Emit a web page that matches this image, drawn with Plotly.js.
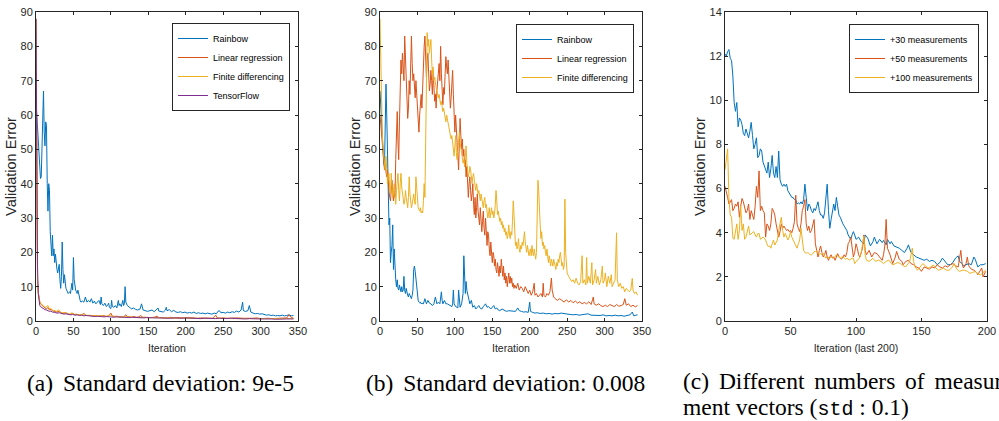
<!DOCTYPE html>
<html>
<head>
<meta charset="utf-8">
<script src="https://cdn.plot.ly/plotly-3.0.1.min.js"></script>
<style>
html,body{margin:0;padding:0;overflow:hidden;background:#fff;}
#chart{width:999px;height:421px;}
</style>
</head>
<body>
<div id="chart"></div>
<script>
// ---------- DATA (iteration, validation error) ----------
const aRainbow = [[0,64],[1,60],[2,55],[3,50],[4,46],[5,43],[6,41.5],[7,42],[8,52],[9,64],[10,67],[11,55],[12,51],[13,58],[14,57],[15,40],[16,32],[17,40],[18,38],[19,26],[20,21],[21,19],[22,25],[23,19],[24,21],[25,17],[26,19.5],[27,16],[28,15],[29,14],[30,16],[31,16.5],[32,12],[33,9.5],[34,13],[35,23],[36,15],[37,11],[38,13.5],[39,11],[40,9.5],[41,9],[42,8.5],[43,8],[44,8.3],[45,8.5],[46,8],[47,10],[48,11],[49,9],[50,18.5],[51,12],[52,10],[53,9],[54,8.5],[55,8],[56,9],[57,7.5],[58,6.5],[59,6],[60,5.5],[62,5.8],[64,5.5],[66,7],[68,5.5],[70,6],[72,5.5],[74,6.5],[76,5.2],[78,5.8],[80,5],[82,5.5],[84,6],[86,4.8],[87,7],[88,5],[90,4.5],[92,5.2],[94,4.2],[96,4.8],[97,5.2],[98,4],[100,3.6],[101,6],[102,4.2],[104,4],[106,4.5],[108,3.8],[110,6],[111,4.5],[112,5],[114,4.2],[116,6],[117,4.5],[118,5],[119,10],[120,5.5],[122,4.5],[124,4],[126,3.8],[128,3.5],[130,3.8],[133,3.4],[136,3.2],[139,3.5],[141,5],[143,3.2],[146,3],[149,2.8],[152,3],[155,3.2],[158,2.7],[161,3.3],[163,3.8],[164,2.9],[167,2.8],[170,2.6],[173,3.2],[174,4],[175,3],[178,3.3],[181,2.7],[184,3.1],[187,2.6],[190,2.5],[193,2.7],[196,2.4],[199,2.6],[202,2.3],[205,2.5],[208,2.3],[211,2.6],[214,2.2],[217,2.4],[220,2.2],[223,2.3],[226,2.1],[229,2.3],[232,2.2],[235,2],[238,2.3],[241,2.1],[243,2.8],[245,3],[247,2.4],[250,2.5],[253,2.3],[256,2.6],[259,2.4],[262,2.7],[265,2.5],[268,2.9],[271,2.6],[274,3.2],[276,5.5],[277,3],[280,2.8],[283,3],[285,4.5],[287,2.6],[290,2.3],[293,2.1],[296,2.2],[299,2],[302,2.1],[305,1.9],[308,1.7],[311,1.8],[314,1.6],[317,1.7],[320,1.5],[323,1.6],[326,1.5],[329,1.7],[332,1.5],[335,1.6],[338,1.8],[341,1.5],[344,1.6]];

const aLinReg = [[0,88],[1,35],[2,12],[3,8.5],[4,6.5],[5,5.5],[6,5],[8,4.5],[10,4.2],[12,3.8],[14,3.6],[16,3.9],[18,3.2],[20,3.4],[22,3],[25,2.9],[28,2.6],[31,2.8],[34,2.3],[37,2.2],[40,2.4],[43,2],[46,1.9],[49,2.2],[52,1.8],[55,1.9],[58,1.7],[61,1.8],[64,2.2],[67,1.6],[70,1.7],[73,1.6],[76,1.5],[79,1.6],[82,1.4],[85,1.5],[88,1.4],[91,1.6],[94,1.3],[97,1.5],[100,2.3],[102,1.4],[105,1.3],[108,1.4],[111,1.2],[114,1.3],[117,1.2],[120,1.8],[122,1.3],[125,1.2],[128,1.1],[131,1.3],[134,1.1],[137,1.2],[140,1.6],[142,1.1],[146,1],[150,1.1],[154,1],[158,1.1],[162,1.4],[164,1],[168,0.9],[172,1],[176,0.9],[180,1.1],[184,0.9],[188,1],[192,0.9],[196,1],[200,0.9],[204,1],[208,0.9],[212,1],[216,0.8],[220,0.9],[224,0.9],[228,0.8],[232,0.9],[236,0.8],[240,1.7],[242,0.9],[246,0.8],[250,0.9],[255,0.8],[260,0.9],[265,0.8],[270,0.9],[275,0.8],[280,0.9],[285,0.8],[290,0.8],[295,0.9],[300,0.7],[305,0.8],[310,0.8],[315,0.7],[320,0.8],[325,0.7],[330,0.8],[335,0.9],[338,1.8],[341,1],[344,0.8]];

const aFiniteDiff = [[0,88],[1,30],[2,11],[3,8],[4,6.5],[5,5.8],[6,5.2],[8,4.8],[10,4.4],[12,4],[14,4.2],[16,4.5],[18,3.5],[20,3.6],[22,3.2],[25,3.1],[28,2.8],[30,3.3],[33,2.5],[36,2.4],[39,2.5],[42,2.2],[45,2],[48,2.4],[51,1.9],[54,2],[57,1.8],[60,1.9],[63,1.7],[66,1.8],[69,1.6],[72,1.7],[75,1.5],[78,1.6],[81,1.5],[84,1.4],[87,1.6],[90,1.4],[93,1.3],[96,1.5],[99,1.8],[102,1.3],[105,1.4],[108,1.2],[111,1.3],[114,1.1],[117,1.2],[120,1.3],[124,1.1],[128,1.2],[132,1],[136,1.1],[140,1],[145,1.1],[150,0.9],[155,1],[160,0.9],[165,1],[170,0.9],[175,0.9],[180,0.8],[185,0.9],[190,0.8],[195,0.9],[200,0.8],[210,0.8],[220,0.7],[230,0.8],[240,0.7],[250,0.8],[260,0.7],[270,0.7],[280,0.8],[290,0.7],[300,0.7],[310,0.6],[320,0.7],[330,0.6],[340,0.7],[344,0.7]];

const aTensorFlow = [[0,88],[1,45],[2,16],[3,8],[4,5.5],[5,4.6],[6,4.2],[8,3.8],[10,3.6],[12,3.3],[14,3.2],[16,3],[18,2.8],[20,2.9],[22,2.6],[25,2.5],[28,2.3],[31,2.4],[34,2.1],[37,2],[40,2.1],[43,1.9],[46,1.8],[49,1.9],[52,1.7],[55,1.8],[58,1.6],[61,1.7],[64,1.5],[67,1.6],[70,1.5],[73,1.4],[76,1.5],[79,1.3],[82,1.4],[85,1.3],[88,1.4],[91,1.2],[94,1.3],[97,1.2],[100,1.3],[104,1.1],[108,1.2],[112,1.1],[116,1.2],[120,1.1],[124,1],[128,1.1],[132,1],[136,1.1],[140,1],[144,0.9],[148,1],[152,0.9],[156,1],[160,0.9],[165,0.9],[170,0.8],[175,0.9],[180,0.8],[185,0.9],[190,0.8],[195,0.8],[200,0.9],[205,0.8],[210,0.7],[215,0.8],[220,0.7],[225,0.8],[230,0.7],[235,0.8],[240,0.7],[245,0.8],[250,0.7],[255,0.7],[260,0.8],[265,0.7],[270,0.6],[275,0.7],[280,0.6],[285,0.7],[290,0.6],[295,0.7],[300,0.6],[305,0.6],[310,0.7],[315,0.6],[320,0.5],[325,0.6],[330,0.5],[335,0.6],[340,0.6],[344,0.6]];

const bRainbow = [[0,67],[1,62],[2,57],[3,53],[4,49],[5,46],[6,45],[7,55],[8,69],[9,60],[10,46],[11,40],[12,28],[13,30],[14,17],[15,20],[16,22],[17,28],[18,15],[19,21],[20,15],[21,12],[22,10],[23,12],[24,9.5],[25,9],[26,10.5],[27,9],[28,8.5],[29,10],[30,8.5],[31,9],[32,13],[33,9],[34,8],[35,9.5],[36,8],[37,7.5],[38,7],[39,8],[40,7.5],[41,7],[42,6.5],[43,7.5],[44,9],[45,15],[46,16],[47,14.5],[48,12],[49,9],[50,6.5],[51,6],[52,5.5],[53,5.3],[54,5.5],[55,5],[56,5.2],[58,5],[60,6.5],[62,5],[64,6],[66,5.2],[68,5],[70,4.5],[72,5],[74,7],[76,5],[78,5.5],[80,5],[82,8.5],[83,6],[84,5],[86,6],[88,5],[90,5],[92,4.8],[94,4.5],[96,4.2],[97,5],[98,9],[99,5],[101,4.2],[103,4],[104,3.8],[105,9],[106,5],[107,4],[109,5],[111,8],[112,19],[113,11],[114,8],[115,11.5],[116,9],[118,7],[120,5],[122,6],[124,4],[126,4.5],[128,3.5],[130,4],[132,4.5],[134,3.7],[136,3.5],[138,4.2],[141,5],[143,4],[145,4.2],[148,3.5],[150,4],[152,4.5],[154,3.5],[156,3.8],[158,3.2],[160,3],[163,3.5],[166,3.2],[169,2.8],[172,3],[175,2.9],[178,3],[181,2.8],[184,3.8],[186,3],[189,2.8],[192,2.6],[195,2.7],[198,2.5],[200,5.5],[201,2.8],[204,2.5],[207,2.3],[210,2.4],[214,2.2],[218,2.3],[222,2.1],[226,2.2],[230,2],[234,2.2],[238,2.1],[242,2.3],[246,2.1],[250,2],[254,1.9],[258,1.8],[262,1.9],[266,1.7],[270,1.8],[274,1.9],[278,2.1],[282,1.7],[286,1.6],[290,1.7],[294,1.6],[298,1.8],[302,1.5],[306,1.6],[310,1.5],[314,1.7],[318,1.5],[322,1.6],[326,1.4],[330,1.6],[334,1.8],[337,2.6],[339,1.5],[342,1.7],[344,1.8]];

const bLinReg = [[0,60],[1,57],[2,53],[3,50],[4,48],[5,46],[6,44],[7,45],[8,43],[9,42],[10,44],[11,40],[12,38],[13,36],[14,35],[15,38],[16,41],[17,37],[18,35],[19,38],[20,36],[21,47],[22,55],[23,61],[24,52],[25,47],[26,58],[27,70],[28,76],[29,72],[30,78],[31,74],[32,70],[33,83],[34,75],[35,68],[36,64],[37,59],[38,62],[39,70],[40,66],[41,76],[42,83],[43,75],[44,70],[45,72],[46,68],[47,65],[48,70],[49,65],[50,62],[51,58],[52,55],[53,60],[54,64],[55,66],[56,62],[57,70],[58,76],[59,80],[60,83],[61,74],[62,71],[63,76],[64,78],[65,72],[66,67],[67,69],[68,73],[69,70],[70,66],[71,73],[72,68],[73,64],[74,66],[75,62],[76,67],[77,70],[78,73],[79,75],[80,70],[81,80],[82,72],[83,64],[84,63],[85,68],[86,66],[87,72],[88,77],[89,74],[90,72],[91,76],[92,70],[93,66],[94,62],[95,65],[96,68],[97,73],[98,66],[99,58],[100,55],[101,60],[102,56],[103,52],[104,50],[105,44],[106,52],[107,59],[108,54],[109,50],[110,53],[111,48],[112,50],[113,45],[114,47],[115,42],[116,45],[117,38],[118,36],[119,40],[120,42],[121,38],[122,35],[123,37],[124,40],[125,34],[126,31],[127,36],[128,30],[129,33],[130,37],[131,32],[132,29],[133,28],[134,33],[135,30],[136,26],[137,29],[138,32],[139,27],[140,25],[141,30],[142,24],[143,22],[144,26],[145,25],[146,21],[147,19],[148,23],[149,18],[150,17],[151,20],[152,19],[153,16],[154,18],[155,15],[156,14],[157,17],[158,15],[159,13],[160,16],[161,14],[162,18],[163,13],[164,13],[165,16],[166,12],[167,14],[168,11],[169,13],[170,10],[171,12],[172,14],[173,11],[174,13],[175,11],[176,12.5],[177,10],[178,11],[179,9.5],[180,10.5],[182,9.5],[184,11],[186,9],[188,10],[190,9.5],[192,8.5],[194,10],[196,9],[198,8],[200,9],[202,7.5],[204,8.5],[206,11],[207,7.5],[209,8],[211,7],[213,7.5],[215,8],[217,7],[218,11],[219,7.5],[221,7],[223,8],[225,7.5],[227,8.5],[229,12.5],[230,9],[232,7],[234,6.5],[237,6],[240,6.5],[243,6],[246,5.5],[249,6.2],[252,5.5],[255,6],[258,5.3],[261,5.8],[264,5.2],[267,5.6],[270,5],[273,5.4],[276,5],[279,5.6],[282,4.8],[285,7],[286,5],[289,4.6],[292,5],[295,4.5],[298,4.2],[301,4.6],[304,4.2],[307,4.8],[310,4.4],[313,4.2],[316,4.8],[319,4.3],[322,4.5],[325,4.8],[327,6.5],[329,4.6],[332,5],[335,4.2],[338,4.6],[341,4.1],[344,4.5]];

const bFiniteDiff = [[0,88],[1,72],[2,62],[3,55],[4,50],[5,47],[6,45],[7,44],[8,48],[9,45],[10,40],[11,42],[12,43],[13,38],[14,37],[15,43],[16,40],[17,36],[18,38],[19,40],[20,36],[21,34],[22,38],[23,40],[24,43],[25,38],[26,35],[27,40],[28,43],[29,39],[30,37],[31,36],[32,34],[33,35],[34,38],[35,36],[36,34],[37,33],[38,36],[39,42],[40,37],[41,33],[42,33],[43,34],[44,36],[45,37],[46,35],[47,34],[48,42],[49,38],[50,33],[51,33],[52,32.5],[53,32],[54,33],[55,31.5],[56,32],[57,31.5],[58,35],[59,40],[60,36],[61,50],[62,68],[63,84],[64,80],[65,82],[66,78],[67,80],[68,82],[69,76],[70,72],[71,74],[72,70],[73,71],[74,69],[75,68],[76,67],[77,66],[78,65],[79,66],[80,64],[81,63],[82,64],[83,62],[84,61],[85,62],[86,60],[87,59],[88,58],[89,60],[90,59],[91,57],[92,56],[93,55],[94,55],[95,53],[96,54],[97,52],[98,50],[99,48],[100,51],[101,54],[102,49],[103,47],[104,50],[105,53],[106,55],[107,52],[108,50],[109,49],[110,48],[111,46],[112,47],[113,45],[114,48],[115,51],[116,46],[117,44],[118,42],[119,43],[120,45],[121,44],[122,41],[123,40],[124,42],[125,43],[126,41],[127,39],[128,38],[129,40],[130,39],[131,37],[132,38],[133,36],[134,35],[135,37],[136,36],[137,34],[138,33],[139,35],[140,36],[141,33],[142,34],[143,32],[144,30],[145,31],[146,33],[147,30],[148,31],[149,33],[150,31],[151,32],[152,30],[153,31],[154,34],[155,38],[156,35],[157,31],[158,32],[159,30],[160,29],[161,30],[162,28],[163,29],[164,27],[165,28],[166,26],[167,27],[168,25],[169,26],[170,24],[171,25],[172,28],[173,25],[174,24],[175,26],[176,25],[177,29],[178,35],[179,31],[180,26],[181,22],[182,23],[183,21],[184,22],[185,24],[186,21],[187,20],[188,22],[189,21],[190,23],[191,22],[192,24],[193,26],[194,23],[195,21],[196,20],[197,22],[198,20],[199,19],[200,20],[201,21],[202,19],[203,22],[204,20],[205,19],[206,21],[207,19],[208,18],[209,20],[210,28],[211,41],[212,38],[213,30],[214,28],[215,24],[216,26],[217,22],[218,23],[219,21],[220,22],[221,20],[222,19],[223,21],[224,18],[225,17],[226,19],[227,17],[228,16],[229,18],[230,17],[231,16],[232,18],[233,17],[234,16],[235,15],[236,17],[237,16],[238,18],[239,17],[240,19],[241,20],[242,18],[243,16],[244,17],[245,15],[246,16],[247,35.5],[248,20],[249,15],[250,14],[252,13],[254,12],[256,11.5],[258,12],[260,11],[262,12.5],[264,11],[266,10.5],[268,11.5],[270,19],[271,11],[273,12],[275,10.5],[276,18.5],[277,11],[279,13],[281,11],[283,17],[284,10.5],[286,12],[288,15],[289,11],[291,13],[293,10.5],[295,12],[297,16],[298,11],[300,12],[301,14],[303,10],[305,13],[307,11],[309,13.5],[310,10],[312,11],[314,12],[316,25.7],[317,12],[319,10],[321,11],[323,9.5],[325,10],[327,8.5],[329,9.5],[331,9],[333,8.5],[335,9],[337,12.4],[338,9],[340,8],[342,8.5],[344,7.5]];

const c30 = [[0,12.1],[1,12],[2,12.2],[3,12.3],[4,11.9],[5,11.8],[6,11.1],[7,9.9],[8,9.5],[9,9.9],[10,8.8],[11,9.2],[12,9.1],[13,8.9],[14,8.5],[15,8.4],[16,8.7],[17,8.5],[18,8.3],[19,8.6],[20,9],[21,8.4],[22,7.8],[23,8],[24,8.3],[25,7.4],[26,7.5],[27,7.8],[28,7.7],[29,7.2],[30,7],[31,6.8],[32,6.7],[33,7.2],[34,6.5],[35,6.9],[36,7.5],[37,6.7],[38,6.5],[39,7],[40,6.5],[41,7.7],[42,6.4],[43,6.2],[44,6.1],[45,6.2],[46,6.1],[47,6.2],[48,5.9],[49,5.8],[50,5.7],[51,5.6],[52,5.6],[53,5.5],[54,5.5],[55,5.3],[56,5.35],[57,5.3],[58,5.4],[59,5.3],[60,5.5],[61,6.2],[62,5.6],[63,5],[64,5.3],[65,5.2],[66,5],[67,4.9],[68,5.1],[69,5],[70,5.2],[71,5.4],[72,5],[73,4.8],[74,4.8],[75,4.65],[76,4.9],[77,5.5],[78,6.2],[79,5],[80,4.2],[81,4.6],[82,4.9],[83,5.3],[84,5],[85,5.6],[86,5.2],[87,4.8],[88,4.7],[89,4.5],[90,4.4],[91,4.3],[92,4.2],[93,4.1],[94,3.9],[95,3.8],[96,3.7],[97,3.9],[98,4.05],[99,3.9],[100,3.7],[102,3.8],[104,3.6],[106,3.5],[107,3.9],[109,3.75],[111,3.4],[113,3.6],[114,3.8],[116,3.5],[118,3.7],[120,3.55],[121,3.65],[123,3.45],[124,3.7],[126,3.5],[127,3.6],[129,3.4],[131,3.35],[133,3.3],[135,3.2],[137,3.1],[139,3.3],[140,3.45],[142,3.1],[144,3],[146,2.9],[148,2.85],[150,2.8],[152,2.75],[154,2.8],[156,2.7],[158,2.75],[160,2.7],[162,2.55],[164,2.65],[166,2.85],[168,2.7],[170,2.55],[172,2.55],[174,2.65],[176,2.85],[178,2.95],[179,2.7],[181,2.6],[182,2.5],[184,2.55],[186,2.6],[188,2.55],[190,2.9],[191,2.8],[193,2.45],[195,2.55],[197,2.55],[199,2.6]];

const c50 = [[0,6.1],[1,5.9],[2,5.6],[3,5.3],[4,5.4],[5,5.5],[6,5],[7,5.1],[8,5.3],[9,5.2],[10,5.4],[11,4.7],[12,5.2],[13,5.55],[14,5.4],[15,5.1],[16,4.9],[17,5],[18,5.3],[19,4.6],[20,5],[21,4.8],[22,4.6],[23,5.2],[24,6.1],[25,5.6],[26,6.8],[27,5],[28,5.2],[29,5],[30,4.9],[31,3.8],[32,4.4],[33,4.3],[34,4.1],[35,4.4],[36,5.1],[37,5],[38,4.8],[39,4.4],[40,4],[41,3.8],[42,4.05],[43,4.4],[44,4.2],[45,4.3],[46,4.2],[47,4.1],[48,4.15],[49,4.05],[50,4.1],[51,4],[52,4.2],[53,4.5],[54,5.7],[55,4.4],[56,4.2],[57,4.05],[58,4.4],[59,5],[60,5.2],[61,5.5],[62,4.4],[63,4.1],[64,4.3],[65,4],[66,4.1],[67,4.3],[68,4.6],[69,3.5],[70,3.1],[71,2.9],[72,3.2],[73,3.4],[74,3.1],[75,2.9],[76,3],[77,3.2],[78,2.9],[79,2.75],[80,2.9],[81,3],[82,2.85],[83,2.9],[84,2.75],[85,2.9],[86,3.05],[87,2.9],[88,2.85],[89,2.8],[90,2.9],[91,3],[92,2.9],[93,3.1],[94,3.5],[95,3.6],[96,3.8],[97,3.2],[98,2.9],[99,3.1],[100,3.5],[101,3.3],[102,3],[103,2.9],[104,3.1],[105,3.3],[106,3.9],[107,3.2],[108,3],[110,3.2],[112,2.9],[114,3.1],[116,3.05],[118,2.9],[120,2.75],[121,3],[122,3.4],[123,4.6],[124,3.3],[126,3],[128,2.6],[130,2.9],[131,3.15],[133,2.8],[135,2.7],[136,2.55],[138,2.7],[140,2.75],[142,2.6],[144,2.55],[146,2.45],[148,2.4],[150,2.25],[152,2.45],[154,2.4],[156,2.35],[158,2.45],[160,2.4],[162,2.55],[164,2.45],[166,2.4],[168,2.5],[170,2.45],[172,2.55],[174,2.6],[176,2.5],[178,2.45],[180,3.2],[181,2.6],[182,2.4],[184,2.6],[185,2.9],[186,2.5],[188,2.35],[190,2.3],[192,2.2],[193,2.1],[195,2.3],[196,2.4],[197,2],[199,2.25]];

const c100 = [[0,6.85],[1,7.3],[2,7.8],[3,5.6],[4,4.8],[5,4.7],[6,3.75],[7,3.7],[8,4.1],[9,4.4],[10,3.7],[11,4.1],[12,5.2],[13,4.1],[14,4.4],[15,3.7],[16,3.8],[17,4],[18,4.3],[19,3.9],[20,3.95],[21,4],[22,4.05],[23,3.9],[24,3.8],[25,3.95],[26,3.97],[27,3.7],[28,3.75],[29,3.8],[30,3.75],[31,3.67],[32,3.5],[33,3.37],[34,3.4],[35,3.3],[36,3.5],[37,3.67],[38,3.44],[39,3.55],[40,3.67],[41,4.1],[42,4.4],[43,4.7],[44,4.1],[45,3.8],[46,3.97],[47,3.8],[48,3.67],[49,3.8],[50,4.05],[51,3.8],[52,3.67],[53,3.5],[54,3.4],[55,3.3],[56,3.5],[57,3.67],[58,4.2],[59,3.6],[60,3.2],[61,3.1],[62,3.07],[63,3.1],[64,3.07],[65,3],[66,3],[67,3.05],[68,3.14],[69,3.15],[70,3.2],[71,3.05],[72,3],[73,3.05],[74,3],[75,3.07],[76,2.95],[77,2.85],[78,2.9],[79,2.85],[80,2.84],[81,2.9],[82,2.9],[83,2.85],[84,2.95],[85,3],[86,2.95],[87,2.9],[88,2.85],[89,2.9],[90,2.9],[91,2.85],[92,2.8],[93,2.84],[94,2.8],[95,2.77],[96,2.8],[97,2.85],[98,2.84],[99,2.6],[100,2.7],[102,2.8],[103,2.9],[104,3.1],[105,3.5],[106,3.85],[107,3],[108,2.75],[110,2.7],[112,2.8],[113,2.84],[115,2.7],[117,2.76],[119,2.7],[121,2.6],[123,2.7],[125,2.76],[127,2.6],[128,2.54],[130,2.6],[132,2.65],[134,2.6],[136,2.5],[138,2.46],[140,2.6],[141,2.7],[143,3.3],[144,2.7],[145,2.46],[147,2.3],[149,2.45],[151,2.6],[153,2.5],[155,2.39],[157,2.45],[159,2.54],[161,2.4],[163,2.3],[165,2.35],[167,2.39],[169,2.3],[171,2.3],[173,2.4],[175,2.6],[177,2.35],[179,2.24],[181,2.3],[183,2.3],[185,2.25],[187,2.16],[189,2.2],[191,2.24],[193,2.15],[195,2.08],[197,2.2],[199,2.3]];

const legendA = ['Rainbow','Linear regression','Finite differencing','TensorFlow'];
const legendC = ['+30 measurements','+50 measurements','+100 measurements'];
const ticksIter = [0,50,100,150,200,250,300,350];
const ticksErr = [0,10,20,30,40,50,60,70,80,90];
const ticksLast = [0,50,100,150,200];
const ticksErrC = [0,2,4,6,8,10,12,14];
const G = '\u2004\u200A';
const captionA = '(a)' + G + 'Standard deviation: 9e-5';
const captionB = '(b)' + G + 'Standard deviation: 0.008';
const captionC1 = ['(c)', 'Different', 'numbers', 'of', 'measure-'].join(G);
const captionC2 = 'ment vectors (<span style="font-family:Liberation Mono, DejaVu Sans Mono, monospace;font-size:20px">std</span> : 0.1)';

// ---------- STYLE ----------
const COLORS = ['#0072BD','#D95319','#EDB120','#7E2F8E'];
const SANS = 'Liberation Sans, Arial, sans-serif';
const SERIF = 'Liberation Serif, Times New Roman, serif';
const AXC = '#262626';

function tr(pairs, name, color, xa, ya, lg) {
  return {
    x: pairs.map(p => p[0]), y: pairs.map(p => p[1]),
    name: name, type: 'scatter', mode: 'lines',
    line: {color: color, width: 1},
    xaxis: xa, yaxis: ya, legend: lg, hoverinfo: 'skip'
  };
}

const data = [
  tr(aRainbow, legendA[0], COLORS[0], 'x', 'y', 'legend'),
  tr(aLinReg, legendA[1], COLORS[1], 'x', 'y', 'legend'),
  tr(aFiniteDiff, legendA[2], COLORS[2], 'x', 'y', 'legend'),
  tr(aTensorFlow, legendA[3], COLORS[3], 'x', 'y', 'legend'),
  tr(bRainbow, legendA[0], COLORS[0], 'x2', 'y2', 'legend2'),
  tr(bLinReg, legendA[1], COLORS[1], 'x2', 'y2', 'legend2'),
  tr(bFiniteDiff, legendA[2], COLORS[2], 'x2', 'y2', 'legend2'),
  tr(c30, legendC[0], COLORS[0], 'x3', 'y3', 'legend3'),
  tr(c50, legendC[1], COLORS[1], 'x3', 'y3', 'legend3'),
  tr(c100, legendC[2], COLORS[2], 'x3', 'y3', 'legend3')
];

function ax(extra) {
  return Object.assign({
    showline: true, linecolor: AXC, linewidth: 1, mirror: 'ticks',
    ticks: 'inside', ticklen: 3, tickwidth: 1, tickcolor: AXC,
    showgrid: false, zeroline: false, fixedrange: true,
    tickfont: {family: SANS, size: 11, color: AXC}
  }, extra);
}
const YD = [100/421, 409/421];
const xTitle = t => ({text: t, font: {family: SANS, size: 10.5, color: AXC}, standoff: 8});
const yTitle = {text: 'Validation Error', font: {family: SANS, size: 14.5, color: AXC}, standoff: 0};

function leg(xr, yt) {
  return {x: xr/999, y: (421-yt)/421, xanchor: 'right', yanchor: 'top',
    bgcolor: '#fff', bordercolor: AXC, borderwidth: 1,
    font: {family: SANS, size: 9, color: '#000'}, tracegroupgap: 0};
}

const layout = {
  width: 999, height: 421,
  margin: {l: 0, r: 0, t: 0, b: 0},
  paper_bgcolor: '#fff', plot_bgcolor: '#fff',
  showlegend: true,
  xaxis: ax({domain: [36/999, 298/999], range: [0, 350], tickvals: ticksIter, anchor: 'y', title: xTitle('Iteration')}),
  yaxis: ax({domain: YD, range: [0, 90], tickvals: ticksErr, anchor: 'x', title: yTitle}),
  xaxis2: ax({domain: [380/999, 642/999], range: [0, 350], tickvals: ticksIter, anchor: 'y2', title: xTitle('Iteration')}),
  yaxis2: ax({domain: YD, range: [0, 90], tickvals: ticksErr, anchor: 'x2', title: yTitle}),
  xaxis3: ax({domain: [725/999, 987/999], range: [0, 200], tickvals: ticksLast, anchor: 'y3', title: xTitle('Iteration (last 200)')}),
  yaxis3: ax({domain: YD, range: [0, 14], tickvals: ticksErrC, anchor: 'x3', title: yTitle}),
  legend: leg(290, 23),
  legend2: leg(634, 24),
  legend3: leg(979, 24),
  annotations: [
    {text: captionA, x: 160.5/999, y: (421-383)/421},
    {text: captionB, x: 505.5/999, y: (421-383)/421},
    {text: captionC1, x: 681/999, y: (421-381)/421, xanchor: 'left'},
    {text: captionC2, x: 681/999, y: (421-407)/421, xanchor: 'left'}
  ].map(a => Object.assign({xref: 'paper', yref: 'paper', showarrow: false, xanchor: 'center', yanchor: 'middle',
    align: 'left', font: {family: SERIF, size: 23.5, color: '#000'}}, a))
};

Plotly.newPlot('chart', data, layout, {staticPlot: true, displayModeBar: false});
</script>
</body>
</html>
